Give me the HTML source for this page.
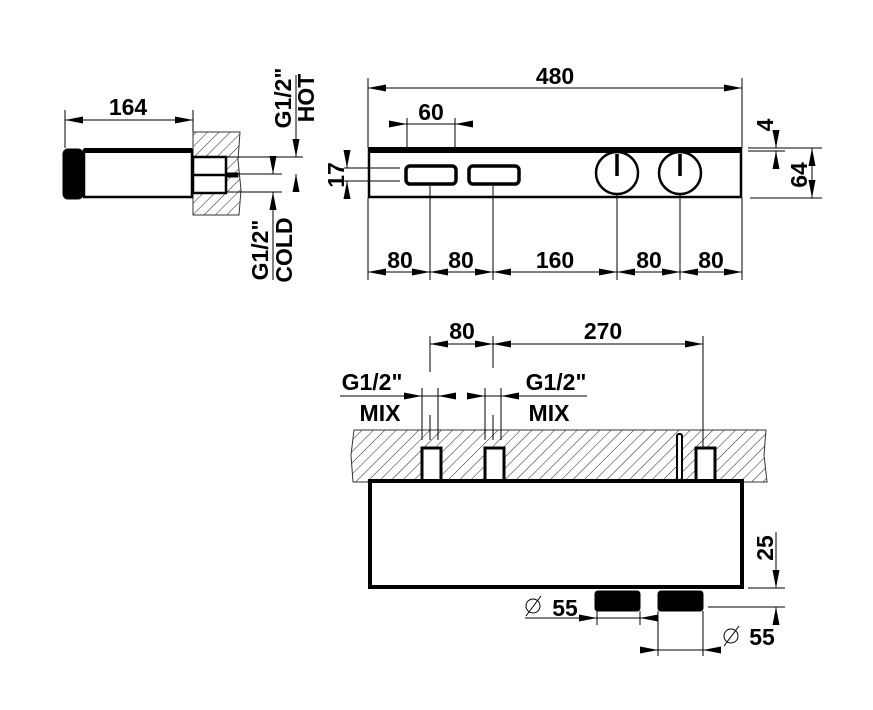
<!DOCTYPE html>
<html><head><style>body{margin:0;background:#fff}svg{display:block}text{font-family:"Liberation Sans",Arial,sans-serif;font-weight:bold;fill:#000}</style></head><body>
<svg width="873" height="710" viewBox="0 0 873 710" xmlns="http://www.w3.org/2000/svg">
<defs>
<pattern id="h" width="8" height="8" patternUnits="userSpaceOnUse" patternTransform="rotate(45)"><line x1="0" y1="0" x2="0" y2="8" stroke="#222" stroke-width="1"/></pattern>
<marker id="a" markerWidth="18" markerHeight="7" refX="18" refY="3.5" orient="auto" markerUnits="userSpaceOnUse"><path d="M0,0 L18,3.5 L0,7z" fill="#000"/></marker>
<marker id="b" markerWidth="18" markerHeight="7" refX="0" refY="3.5" orient="auto" markerUnits="userSpaceOnUse"><path d="M18,0 L0,3.5 L18,7z" fill="#000"/></marker>
</defs>
<g stroke="#000" stroke-width="1" fill="none">
<!-- side view -->
<line x1="65" y1="110" x2="65" y2="148"/><line x1="193" y1="110" x2="193" y2="132"/>
<line x1="65" y1="120" x2="193" y2="120" marker-start="url(#b)" marker-end="url(#a)"/>
<path d="M193,132 L240,132 L238,160 L241,190 L239,215 L193,215z" fill="url(#h)" stroke="#333"/>
<rect x="193" y="157" width="33" height="36" fill="#fff" stroke-width="2.5"/>
<line x1="193" y1="175" x2="226" y2="175" stroke-width="2.5"/>
<rect x="226" y="173" width="12" height="4" fill="#000"/>
<rect x="63" y="149" width="20" height="50" rx="5" fill="#000"/>
<rect x="84" y="150" width="108" height="47" stroke-width="2.5" fill="#fff"/>
<rect x="84" y="148" width="108" height="5" fill="#000" stroke="none"/>
<line x1="226" y1="157" x2="303" y2="157"/><line x1="230" y1="174" x2="282" y2="174"/><line x1="226" y1="192" x2="282" y2="192"/>
<line x1="296" y1="75" x2="296" y2="157" marker-end="url(#a)"/><line x1="296" y1="190" x2="296" y2="174" marker-end="url(#a)"/>
<line x1="273" y1="160" x2="273" y2="174" marker-end="url(#a)"/><line x1="273" y1="280" x2="273" y2="192" marker-end="url(#a)"/>
<!-- front view -->
<line x1="368" y1="78" x2="368" y2="148"/><line x1="742" y1="78" x2="742" y2="148"/>
<line x1="368" y1="88" x2="742" y2="88" marker-start="url(#b)" marker-end="url(#a)"/>
<line x1="407" y1="118" x2="407" y2="160"/><line x1="455" y1="118" x2="455" y2="160"/>
<line x1="390" y1="124" x2="407" y2="124" marker-end="url(#a)"/><line x1="472" y1="124" x2="455" y2="124" marker-end="url(#a)"/>
<line x1="407" y1="124" x2="455" y2="124"/>
<rect x="369" y="150" width="372" height="47" stroke-width="2.5" fill="#fff"/>
<rect x="368" y="147" width="374" height="6" fill="#000" stroke="none"/>
<rect x="406" y="166" width="50" height="18" rx="4" stroke-width="3.5"/>
<rect x="469" y="166" width="50" height="18" rx="4" stroke-width="3.5"/>
<circle cx="617" cy="173" r="21" stroke-width="2.5"/><circle cx="680" cy="173" r="21" stroke-width="2.5"/>
<line x1="617" y1="154" x2="617" y2="176" stroke-width="3.5"/><line x1="680" y1="154" x2="680" y2="176" stroke-width="3.5"/>
<line x1="368" y1="198" x2="368" y2="280"/><line x1="430" y1="186" x2="430" y2="280"/><line x1="493" y1="186" x2="493" y2="280"/><line x1="617" y1="195" x2="617" y2="280"/><line x1="680" y1="195" x2="680" y2="280"/><line x1="742" y1="198" x2="742" y2="280"/>
<line x1="368" y1="272" x2="742" y2="272"/>
<g marker-end="url(#a)"><line x1="400" y1="272" x2="368" y2="272"/><line x1="400" y1="272" x2="430" y2="272"/><line x1="460" y1="272" x2="430" y2="272"/><line x1="460" y1="272" x2="493" y2="272"/><line x1="520" y1="272" x2="493" y2="272"/><line x1="590" y1="272" x2="617" y2="272"/><line x1="650" y1="272" x2="617" y2="272"/><line x1="650" y1="272" x2="680" y2="272"/><line x1="710" y1="272" x2="680" y2="272"/><line x1="710" y1="272" x2="742" y2="272"/></g>
<line x1="344" y1="168" x2="400" y2="168"/><line x1="344" y1="181" x2="400" y2="181"/>
<line x1="347" y1="150" x2="347" y2="168" marker-end="url(#a)"/><line x1="347" y1="199" x2="347" y2="181" marker-end="url(#a)"/>
<line x1="748" y1="148" x2="822" y2="148"/><line x1="748" y1="151" x2="785" y2="151"/><line x1="750" y1="198" x2="822" y2="198"/>
<line x1="776" y1="130" x2="776" y2="148" marker-end="url(#a)"/><line x1="776" y1="168" x2="776" y2="151" marker-end="url(#a)"/>
<line x1="812" y1="173" x2="812" y2="148" marker-end="url(#a)"/><line x1="812" y1="173" x2="812" y2="198" marker-end="url(#a)"/>
<!-- bottom view -->
<path d="M354,430 L766,430 L764,455 L767,482 L353,482 L351,455z" fill="url(#h)" stroke="#333"/>
<rect x="422" y="448" width="19" height="34" fill="#fff" stroke-width="3"/>
<rect x="485" y="448" width="19" height="34" fill="#fff" stroke-width="3"/>
<rect x="696" y="448" width="19" height="34" fill="#fff" stroke-width="3"/>
<rect x="677" y="434" width="5" height="46" rx="2" fill="#fff" stroke-width="2"/>
<rect x="370" y="481" width="372" height="106" fill="#fff" stroke-width="4"/>
<rect x="595" y="591" width="45" height="20" rx="3" fill="#000"/>
<rect x="658" y="591" width="45" height="20" rx="3" fill="#000"/>
<line x1="430" y1="336" x2="430" y2="372"/><line x1="493" y1="336" x2="493" y2="368"/><line x1="703" y1="336" x2="703" y2="448"/>
<line x1="430" y1="344" x2="703" y2="344"/>
<line x1="462" y1="344" x2="430" y2="344" marker-end="url(#a)"/><line x1="462" y1="344" x2="493" y2="344" marker-end="url(#a)"/><line x1="540" y1="344" x2="493" y2="344" marker-end="url(#a)"/><line x1="660" y1="344" x2="703" y2="344" marker-end="url(#a)"/>
<line x1="422" y1="388" x2="422" y2="440"/><line x1="438" y1="388" x2="438" y2="440"/><line x1="430" y1="415" x2="430" y2="440"/>
<line x1="485" y1="388" x2="485" y2="440"/><line x1="501" y1="388" x2="501" y2="440"/><line x1="493" y1="415" x2="493" y2="440"/>
<line x1="340" y1="396" x2="422" y2="396" marker-end="url(#a)"/><line x1="456" y1="396" x2="438" y2="396" marker-end="url(#a)"/><line x1="422" y1="396" x2="438" y2="396"/>
<line x1="467" y1="396" x2="485" y2="396" marker-end="url(#a)"/><line x1="587" y1="396" x2="501" y2="396" marker-end="url(#a)"/><line x1="485" y1="396" x2="501" y2="396"/>
<line x1="748" y1="588" x2="785" y2="588"/><line x1="708" y1="607" x2="785" y2="607"/>
<line x1="776" y1="532" x2="776" y2="588" marker-end="url(#a)"/><line x1="776" y1="625" x2="776" y2="607" marker-end="url(#a)"/>
<line x1="597" y1="611" x2="597" y2="625"/><line x1="640" y1="611" x2="640" y2="625"/>
<line x1="525" y1="618" x2="597" y2="618" marker-end="url(#a)"/><line x1="597" y1="618" x2="640" y2="618"/><line x1="656" y1="618" x2="640" y2="618" marker-end="url(#a)"/>
<line x1="658" y1="611" x2="658" y2="656"/><line x1="703" y1="611" x2="703" y2="656"/>
<line x1="640" y1="650" x2="658" y2="650" marker-end="url(#a)"/><line x1="658" y1="650" x2="703" y2="650"/><line x1="720" y1="650" x2="703" y2="650" marker-end="url(#a)"/>
<circle cx="533" cy="606" r="7"/><line x1="526" y1="616" x2="541" y2="596"/>
<circle cx="731" cy="636" r="7"/><line x1="724" y1="646" x2="739" y2="626"/>
</g>
<g font-size="23">
<text x="128" y="115" text-anchor="middle">164</text>
<text x="555" y="84" text-anchor="middle">480</text>
<text x="431" y="120" text-anchor="middle">60</text>
<text x="400" y="268" text-anchor="middle">80</text><text x="461" y="268" text-anchor="middle">80</text><text x="555" y="268" text-anchor="middle">160</text><text x="649" y="268" text-anchor="middle">80</text><text x="711" y="268" text-anchor="middle">80</text>
<text x="462" y="339" text-anchor="middle">80</text><text x="603" y="339" text-anchor="middle">270</text>
<text x="372" y="390" text-anchor="middle">G1/2"</text><text x="380" y="421" text-anchor="middle">MIX</text>
<text x="556" y="390" text-anchor="middle">G1/2"</text><text x="549" y="421" text-anchor="middle">MIX</text>
<text x="565" y="616" text-anchor="middle">55</text><text x="762" y="645" text-anchor="middle">55</text>
<text transform="translate(291,98) rotate(-90)" text-anchor="middle">G1/2"</text>
<text transform="translate(314,98) rotate(-90)" text-anchor="middle">HOT</text>
<text transform="translate(268,250) rotate(-90)" text-anchor="middle">G1/2"</text>
<text transform="translate(292,250) rotate(-90)" text-anchor="middle">COLD</text>
<text transform="translate(344,175) rotate(-90)" text-anchor="middle">17</text>
<text transform="translate(773,125) rotate(-90)" text-anchor="middle">4</text>
<text transform="translate(807,175) rotate(-90)" text-anchor="middle">64</text>
<text transform="translate(773,548) rotate(-90)" text-anchor="middle">25</text>
</g>
</svg>
</body></html>
